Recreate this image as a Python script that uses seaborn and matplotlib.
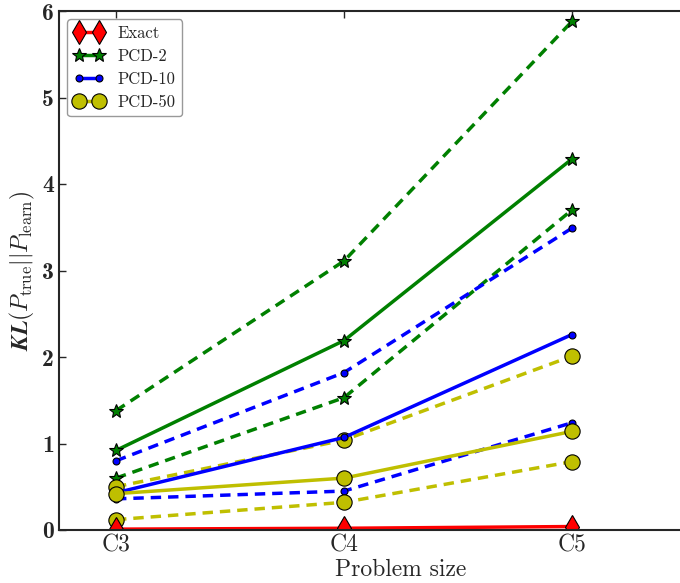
import matplotlib
matplotlib.use("Agg")
import matplotlib.pyplot as plt
import pandas
import seaborn as sns

sizes = ["C3", "C4", "C5"]
y_ticks = [0, 1, 2, 3, 4, 5, 6]

exact = [0.01, 0.02, 0.04]
pcd2 = [0.92, 2.19, 4.29]
pcd2_hi = [1.38, 3.11, 5.88]
pcd2_lo = [0.60, 1.53, 3.70]
pcd10 = [0.43, 1.07, 2.26]
pcd10_hi = [0.80, 1.82, 3.49]
pcd10_lo = [0.36, 0.45, 1.24]
pcd50 = [0.42, 0.60, 1.14]
pcd50_hi = [0.50, 1.04, 2.01]
pcd50_lo = [0.12, 0.32, 0.79]


def frame(values):
    return pandas.DataFrame({"size": sizes, "kl": values})


def draw(ax, values, color, marker, ms, dashed=False):
    sns.lineplot(
        data=frame(values), x="size", y="kl", ax=ax, color=color,
        marker=marker, markersize=ms, markeredgecolor="black",
        markeredgewidth=0.8, linewidth=2.5, sort=False, legend=False,
    )
    line = ax.lines[-1]
    line.set_linestyle((0, (3, 2)) if dashed else "-")
    return line


def main():
    sns.set_style("ticks")
    plt.rcParams["font.family"] = "serif"
    plt.rcParams["font.serif"] = ["cmr10", "DejaVu Serif"]
    plt.rcParams["mathtext.fontset"] = "cm"
    plt.rcParams["axes.formatter.use_mathtext"] = True

    fig = plt.figure(figsize=(6.8, 5.83), dpi=100)
    # right spine falls outside the canvas, as in the cropped original
    ax = fig.add_axes([59 / 680, 53 / 583, 684 / 680, 519 / 583])

    green, blue, yellow = "#008000", "#0000ff", "#bfbf00"
    draw(ax, pcd2_hi, green, "*", 10, dashed=True)
    draw(ax, pcd2_lo, green, "*", 10, dashed=True)
    draw(ax, pcd10_hi, blue, "o", 5, dashed=True)
    draw(ax, pcd10_lo, blue, "o", 5, dashed=True)
    draw(ax, pcd50_hi, yellow, "o", 11, dashed=True)
    draw(ax, pcd50_lo, yellow, "o", 11, dashed=True)
    h2 = draw(ax, pcd2, green, "*", 10)
    h10 = draw(ax, pcd10, blue, "o", 5)
    h50 = draw(ax, pcd50, yellow, "o", 11)
    hx = draw(ax, exact, "red", "d", 12)

    ax.set_xlim(-0.25, 2.75)
    ax.set_ylim(0, 6)
    ax.set_yticks(y_ticks)
    ax.set_yticklabels([str(t) for t in y_ticks], fontsize=17, family="cmb10")
    ax.tick_params(axis="x", labelsize=17)
    ax.tick_params(direction="in", top=True, right=True, length=5, width=1)
    ax.set_xlabel("Problem size", fontsize=17, labelpad=1)
    ax.set_ylabel(r"$\boldsymbol{KL(P_{\rm true}||P_{\rm learn})}$", fontsize=17, labelpad=4)
    for s in ax.spines.values():
        s.set_linewidth(1.5)

    ax.legend([hx, h2, h10, h50], ["Exact", "PCD-2", "PCD-10", "PCD-50"],
              loc="upper left", numpoints=2, fontsize=12, fancybox=True,
              framealpha=1, edgecolor="#999999", handlelength=1.8,
              borderpad=0.4, labelspacing=0.45, borderaxespad=0.5)

    fig.savefig("out.png", dpi=100)


if __name__ == "__main__":
    main()
